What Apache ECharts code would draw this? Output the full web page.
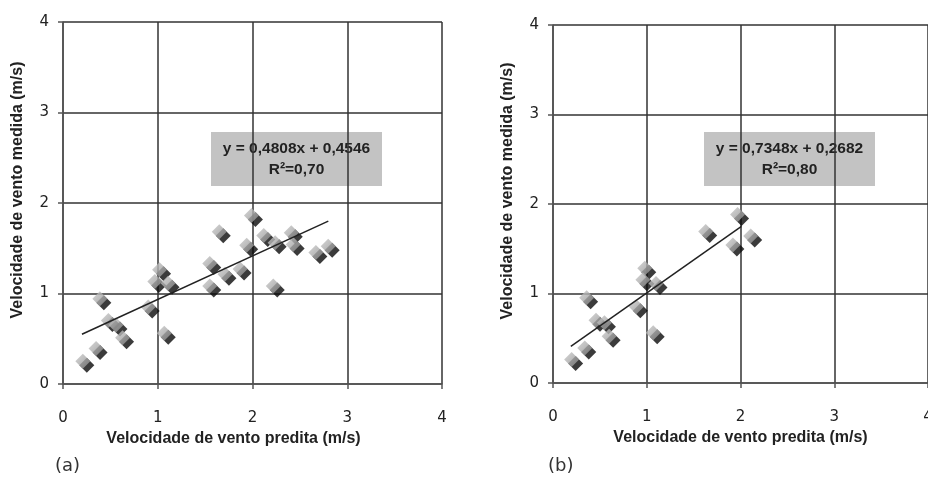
<!DOCTYPE html>
<html>
<head>
<meta charset="utf-8">
<script src="https://cdn.jsdelivr.net/npm/echarts@6/dist/echarts.min.js"></script>
<style>
  html, body { margin: 0; padding: 0; background: #fff; }
  #chart { width: 928px; height: 477px; }
</style>
</head>
<body>
<div id="chart"></div>
<script>
// (a) todos os pontos
var predA = [0.23, 0.37, 0.41, 0.50, 0.58, 0.65, 0.92, 0.99, 1.04, 1.13, 1.09, 1.57, 1.57,
             1.67, 1.73, 1.89, 1.96, 2.01, 2.14, 2.26, 2.24, 2.43, 2.45, 2.69, 2.82];
var medA = [0.23, 0.37, 0.92, 0.68, 0.63, 0.49, 0.83, 1.11, 1.24, 1.09, 0.54, 1.31, 1.06,
            1.66, 1.19, 1.25, 1.51, 1.84, 1.62, 1.54, 1.06, 1.65, 1.52, 1.43, 1.50];
// (b) subconjunto
var predB = [0.22, 0.36, 0.38, 0.48, 0.57, 0.62, 0.91, 1.00, 0.98, 1.12, 1.09, 1.65, 1.99, 1.94, 2.13];
var medB = [0.24, 0.37, 0.93, 0.68, 0.65, 0.50, 0.83, 1.26, 1.13, 1.09, 0.54, 1.67, 1.86, 1.52, 1.62];

// linhas de tendencia (extremos)
var trendAx = [0.2, 2.8];
var trendAy = [0.55, 1.80];
var trendBx = [0.19, 2.01];
var trendBy = [0.41, 1.75];

var ticks = [0, 1, 2, 3, 4];
var eqA = ['y = 0,4808x + 0,4546', 'R²=0,70'];
var eqB = ['y = 0,7348x + 0,2682', 'R²=0,80'];
var xName = 'Velocidade de vento predita (m/s)';
var yName = 'Velocidade de vento medida (m/s)';

function pairs(xs, ys) {
  return xs.map(function (x, i) { return [x, ys[i]]; });
}

function makeAxis(idx, isX, namePad) {
  return {
    type: 'value',
    gridIndex: idx,
    min: ticks[0],
    max: ticks[ticks.length - 1],
    interval: 1,
    name: isX ? xName : yName,
    nameLocation: 'middle',
    nameGap: isX ? 44 : 37,
    nameTextStyle: {
      fontFamily: 'Liberation Sans',
      fontWeight: 'bold',
      fontSize: 16,
      color: '#222',
      padding: namePad
    },
    axisLine: { show: true, lineStyle: { color: '#555', width: 1.5 } },
    axisTick: { show: true, length: 5, lineStyle: { color: '#555', width: 1.5 } },
    axisLabel: {
      fontFamily: 'DejaVu Sans',
      fontSize: 15,
      color: '#222',
      margin: isX ? 27 : 14
    },
    splitLine: { show: true, lineStyle: { color: '#333', width: 1.5 } }
  };
}

function points(idx, xs, ys) {
  return {
    type: 'scatter',
    xAxisIndex: idx,
    yAxisIndex: idx,
    data: pairs(xs, ys),
    symbol: 'diamond',
    symbolSize: 15,
    symbolOffset: [-2, -2],
    z: 3,
    itemStyle: {
      color: new echarts.graphic.LinearGradient(0, 0, 1, 1, [
        { offset: 0, color: '#cccccc' },
        { offset: 1, color: '#8a8a8a' }
      ]),
      shadowColor: '#0a0a0a',
      shadowOffsetX: 4,
      shadowOffsetY: 4,
      shadowBlur: 0
    }
  };
}

function trend(idx, xs, ys) {
  return {
    type: 'line',
    xAxisIndex: idx,
    yAxisIndex: idx,
    data: pairs(xs, ys),
    showSymbol: false,
    z: 4,
    lineStyle: { color: '#222', width: 1.5 }
  };
}

function eqBox(left, lines) {
  return {
    type: 'group',
    left: left,
    top: 132,
    children: [
      { type: 'rect', shape: { x: 0, y: 0, width: 171, height: 54 },
        style: { fill: '#c3c3c3' } },
      { type: 'text', x: 85.5, y: 27,
        style: {
          text: lines.join('\n'),
          fontFamily: 'Liberation Sans', fontWeight: 'bold', fontSize: 15.5,
          lineHeight: 21, fill: '#222', align: 'center', verticalAlign: 'middle'
        } }
    ]
  };
}

var chart = echarts.init(document.getElementById('chart'));
chart.setOption({
  animation: false,
  backgroundColor: '#fff',
  grid: [
    { left: 63, top: 22, width: 379, height: 362, outerBoundsMode: 'none' },
    { left: 553, top: 25, width: 375, height: 358, outerBoundsMode: 'none' }
  ],
  xAxis: [makeAxis(0, true, [0, 38, 0, 0]), makeAxis(1, true, 0)],
  yAxis: [makeAxis(0, false, [0, 0, 0, 26]), makeAxis(1, false, [0, 0, 0, 26])],
  series: [
    points(0, predA, medA),
    trend(0, trendAx, trendAy),
    points(1, predB, medB),
    trend(1, trendBx, trendBy)
  ],
  graphic: [
    eqBox(211, eqA),
    eqBox(704, eqB),
    { type: 'text', left: 55, top: 457,
      style: { text: '(a)', fontFamily: 'DejaVu Sans', fontSize: 18, fill: '#333' } },
    { type: 'text', left: 548, top: 457,
      style: { text: '(b)', fontFamily: 'DejaVu Sans', fontSize: 18, fill: '#333' } }
  ]
});
</script>
</body>
</html>
